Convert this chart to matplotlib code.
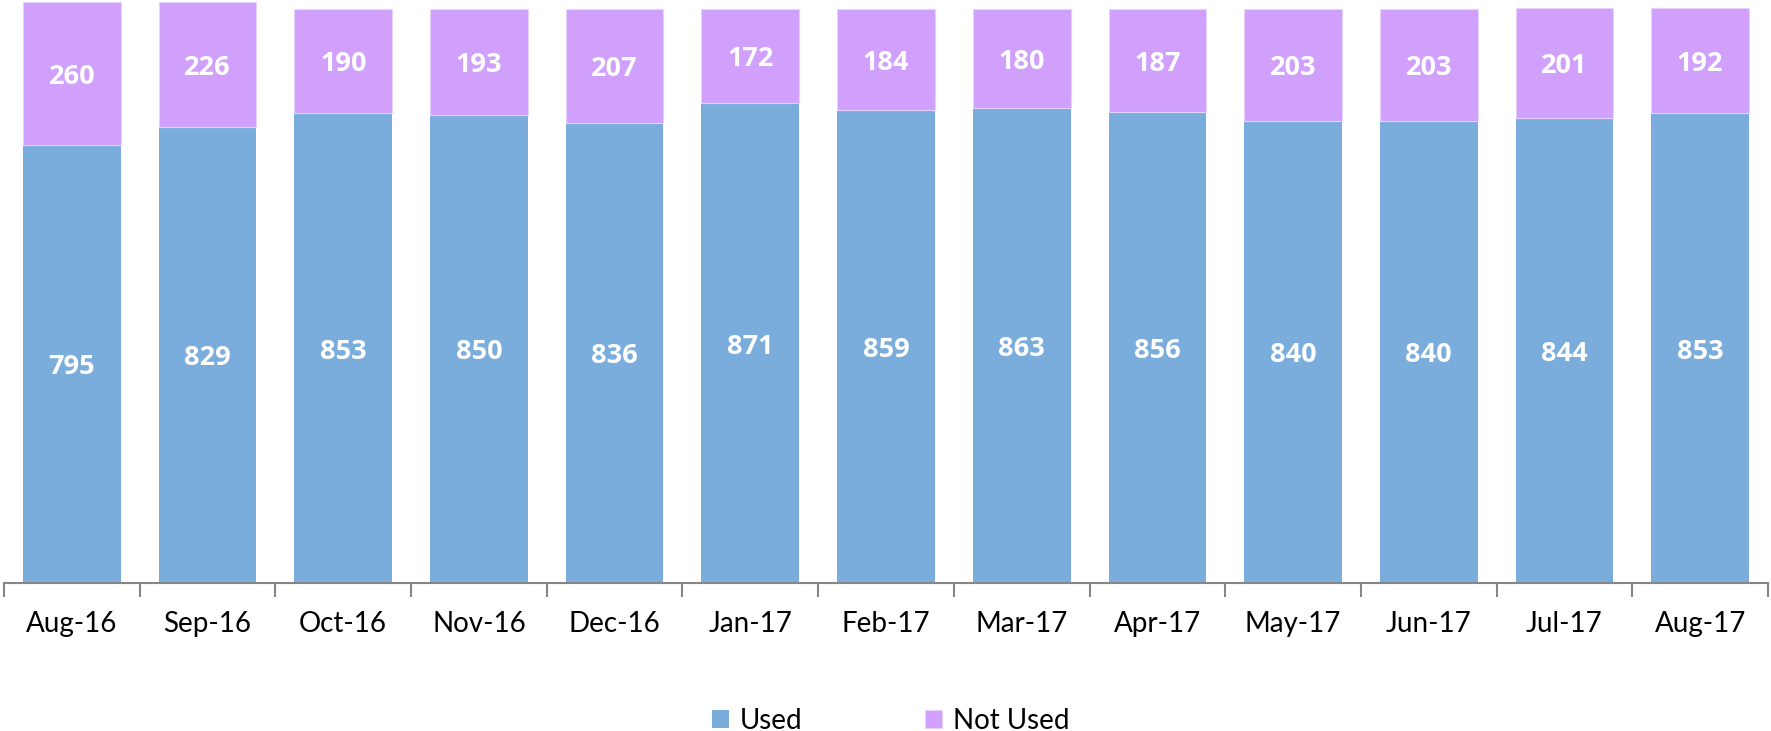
import matplotlib.pyplot as plt
import numpy as np

months = ['Aug-16', 'Sep-16', 'Oct-16', 'Nov-16', 'Dec-16', 'Jan-17', 'Feb-17',
          'Mar-17', 'Apr-17', 'May-17', 'Jun-17', 'Jul-17', 'Aug-17']
used = [795, 829, 853, 850, 836, 871, 859, 863, 856, 840, 840, 844, 853]
not_used = [260, 226, 190, 193, 207, 172, 184, 180, 187, 203, 203, 201, 192]

plt.rcParams['font.family'] = ['Lato', 'DejaVu Sans']

fig = plt.figure(figsize=(17.71, 7.31), dpi=100)
# axes in pixel terms: x 4..1768, y 0..583 (from top)
ax = fig.add_axes([4 / 1771, (731 - 583) / 731, 1764 / 1771, 583 / 731])

x = np.arange(len(months))
w = 0.72
b1 = ax.bar(x, used, w, color='#7aaddb', label='Used')
b2 = ax.bar(x, not_used, w, bottom=used, color='#d0a0fc', label='Not Used',
            edgecolor='#e6d2fd', linewidth=0.8)

# small downward nudge so the numbers sit like the original
nudge = -6
for i in range(len(months)):
    ax.text(x[i], used[i] / 2 + nudge, str(used[i]), ha='center', va='center',
            color='white', fontsize=19.5, fontweight='bold', family=['Open Sans'])
    ax.text(x[i], used[i] + not_used[i] / 2 + nudge, str(not_used[i]),
            ha='center', va='center', color='white', fontsize=19.5,
            fontweight='bold', family=['Open Sans'])

ax.set_xlim(-0.5, len(months) - 0.5)
ax.set_ylim(0, 1059)
ax.set_yticks([])
for s in ['top', 'right', 'left']:
    ax.spines[s].set_visible(False)
ax.spines['bottom'].set_color('#868686')
ax.spines['bottom'].set_linewidth(1.5)

ax.set_xticks(np.arange(len(months) + 1) - 0.5, minor=False)
ax.set_xticklabels([])
ax.tick_params(axis='x', which='major', length=10, width=1.5, color='#868686')
ax.set_xticks(x, minor=True)
ax.set_xticklabels(months, minor=True, fontsize=20)
ax.tick_params(axis='x', which='minor', length=0, pad=20)

fig.legend(handles=[b1, b2], loc='center', bbox_to_anchor=(0.503, (731 - 721) / 731),
           ncol=2, frameon=False, fontsize=20, handlelength=0.6, handleheight=0.6,
           columnspacing=4.4, handletextpad=0.4)

fig.savefig('out.png', dpi=100)
